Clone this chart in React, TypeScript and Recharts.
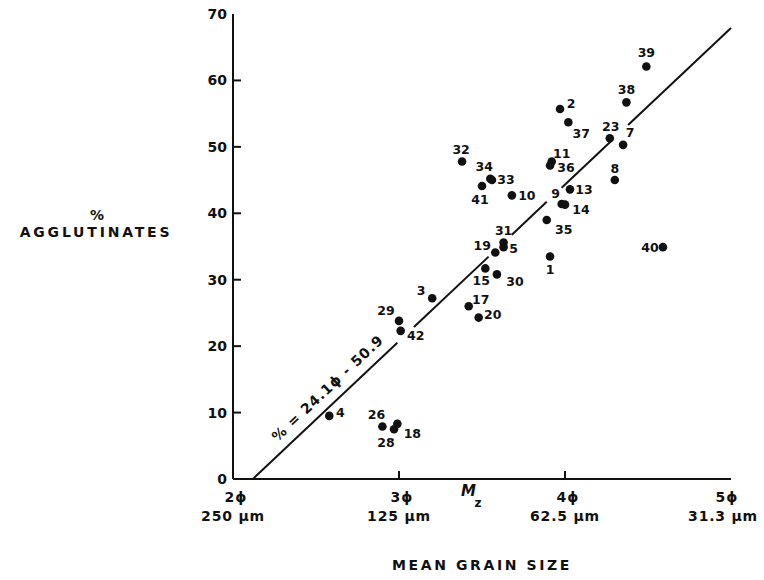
import React from 'react';
import {
  ScatterChart,
  Scatter,
  XAxis,
  YAxis,
  ReferenceLine,
  ReferenceDot,
} from 'recharts';

// sample numbers, mean grain size (phi) and % agglutinates
const sampleIds = [
  '1', '2', '3', '4', '5', '7', '8', '9', '10', '11', '13', '14', '15', '17', '18', '19', '20',
  '23', '26', '28', '29', '30', '31', '32', '33', '34', '35', '36', '37', '38', '39', '40', '41', '42',
];
const meanGrainSize = [
  3.91, 3.97, 3.2, 2.58, 3.63, 4.35, 4.3, 3.98, 3.68, 3.92, 4.03, 4.0, 3.52, 3.42, 2.99, 3.58, 3.48,
  4.27, 2.9, 2.97, 3.0, 3.59, 3.63, 3.38, 3.56, 3.55, 3.89, 3.91, 4.02, 4.37, 4.49, 4.59, 3.5, 3.01,
];
const agglutinates = [
  33.5, 55.7, 27.2, 9.5, 34.9, 50.3, 45.0, 41.4, 42.7, 47.8, 43.6, 41.3, 31.7, 26.0, 8.3, 34.1, 24.3,
  51.3, 7.9, 7.5, 23.8, 30.8, 35.6, 47.8, 45.0, 45.2, 39.0, 47.2, 53.7, 56.7, 62.1, 34.9, 44.1, 22.3,
];

const xTicks = [2, 3, 4, 5];
const xTickPhi = ['2ϕ', '3ϕ', '4ϕ', '5ϕ'];
const xTickMicron = ['250 µm', '125 µm', '62.5 µm', '31.3 µm'];
const yTicks = [0, 10, 20, 30, 40, 50, 60, 70];

// regression line as drawn (ends), with the gaps left around labels
const lineStart = { x: 2.12, y: 0 };
const lineEnd = { x: 5.0, y: 67.9 };
const lineRuns = [
  [2.12, 2.99],
  [3.09, 3.54],
  [3.68, 3.89],
  [3.98, 4.28],
  [4.38, 5.0],
];
const equationText = '% = 24.1ϕ - 50.9';

// where each number sits relative to its dot (px)
const labelOffset: Record<string, [number, number]> = {
  '1': [0, 13], '2': [11, -5], '3': [-11, -8], '4': [11, -3], '5': [10, 1], '7': [7, -12],
  '8': [0, -12], '9': [-6, -10], '10': [15, 0], '11': [10, -8], '13': [14, 0], '14': [16, 5],
  '15': [-4, 12], '17': [12, -7], '18': [15, 10], '19': [-13, -7], '20': [14, -3], '23': [1, -12],
  '26': [-6, -12], '28': [-8, 13], '29': [-13, -10], '30': [18, 7], '31': [0, -12], '32': [-1, -12],
  '33': [14, -1], '34': [-6, -12], '35': [17, 10], '36': [16, 2], '37': [13, 11], '38': [0, -13],
  '39': [0, -14], '40': [-13, 0], '41': [-2, 13], '42': [15, 5],
};

const FONT = '"DejaVu Sans", sans-serif';
const W = 764;
const H = 580;

const lineY = (x: number) =>
  lineStart.y + ((x - lineStart.x) * (lineEnd.y - lineStart.y)) / (lineEnd.x - lineStart.x);

const points = sampleIds.map((id, i) => ({ id, phi: meanGrainSize[i], pct: agglutinates[i] }));

const DotWithLabel = (props: any) => {
  const { cx, cy, payload } = props;
  const [dx, dy] = labelOffset[payload.id] || [12, 0];
  return (
    <g>
      <circle cx={cx} cy={cy} r={4.3} fill="#111" />
      <text
        x={cx + dx}
        y={cy + dy}
        textAnchor="middle"
        dominantBaseline="central"
        fontFamily={FONT}
        fontWeight="bold"
        fontSize={12.5}
        fill="#111"
      >
        {payload.id}
      </text>
    </g>
  );
};

const LeftTick = (props: any) => {
  const { x, y, payload } = props;
  return (
    <g>
      {payload.value > 0 && payload.value < 70 && (
        <line x1={x} x2={x + 8} y1={y} y2={y} stroke="#111" strokeWidth={2} />
      )}
      <text
        x={x - 6}
        y={y}
        textAnchor="end"
        dominantBaseline="central"
        fontFamily={FONT}
        fontWeight="bold"
        fontSize={14}
        fill="#111"
      >
        {payload.value}
      </text>
    </g>
  );
};

const RightTick = (props: any) => {
  const { x, y, payload } = props;
  if (payload.value <= 0 || payload.value >= 70) return <g />;
  return <line x1={x - 8} x2={x} y1={y} y2={y} stroke="#111" strokeWidth={2} />;
};

const BottomTick = (props: any) => {
  const { x, y, payload, index } = props;
  const last = index === xTicks.length - 1;
  return (
    <g>
      {payload.value > 2 && payload.value < 5 && (
        <line x1={x} x2={x} y1={y - 8} y2={y} stroke="#111" strokeWidth={2} />
      )}
      <text x={last ? x - 4 : x + 3} y={y + 23} textAnchor="middle" fontFamily={FONT} fontWeight="bold" fontSize={14} fill="#111" letterSpacing={1}>
        {xTickPhi[index]}
      </text>
      <text
        x={last ? x + 27 : x}
        y={y + 42}
        textAnchor={last ? 'end' : 'middle'}
        fontFamily={FONT}
        fontWeight="bold"
        fontSize={14}
        fill="#111"
        letterSpacing={0.8}
      >
        {xTickMicron[index]}
      </text>
    </g>
  );
};

const XTitle = (props: any) => {
  const { viewBox } = props;
  const { x, y, width } = viewBox;
  return (
    <g fontFamily={FONT} fontWeight="bold" fill="#111">
      <text x={x + width * 0.473} y={y + 17} textAnchor="middle" fontSize={15} fontStyle="italic">
        M
      </text>
      <text x={x + width * 0.492} y={y + 28} textAnchor="middle" fontSize={12}>
        z
      </text>
      <text x={x + width / 2} y={y + 91} textAnchor="middle" fontSize={14} letterSpacing={2.6}>
        MEAN GRAIN SIZE
      </text>
    </g>
  );
};

const YTitle = () => (
  <g fontFamily={FONT} fontWeight="bold" fill="#111">
    <text x={97} y={220} textAnchor="middle" fontSize={14}>
      %
    </text>
    <text x={96} y={237} textAnchor="middle" fontSize={14} letterSpacing={2.8}>
      AGGLUTINATES
    </text>
  </g>
);

const EquationLabel = (props: any) => {
  const { cx, cy } = props;
  return (
    <text
      x={cx}
      y={cy}
      transform={`rotate(-43.4 ${cx} ${cy})`}
      textAnchor="middle"
      dominantBaseline="central"
      fontFamily={FONT}
      fontWeight="bold"
      fontSize={14}
      letterSpacing={1}
      fill="#111"
    >
      {equationText}
    </text>
  );
};

export default function App() {
  return (
    <div style={{ position: 'absolute', left: 0, top: 0, background: '#fff' }}>
      <ScatterChart width={W} height={H} margin={{ top: 14, right: 33, bottom: 41, left: 173 }}>
        <XAxis
          type="number"
          dataKey="phi"
          domain={[2, 5]}
          ticks={xTicks}
          height={60}
          tickSize={0}
          tickMargin={0}
          tickLine={false}
          tick={<BottomTick />}
          axisLine={{ stroke: '#111', strokeWidth: 2 }}
          label={<XTitle />}
        />
        <XAxis
          xAxisId="top"
          orientation="top"
          type="number"
          domain={[2, 5]}
          height={0}
          tick={false}
          tickLine={false}
          axisLine={{ stroke: '#111', strokeWidth: 2 }}
        />
        <YAxis
          type="number"
          dataKey="pct"
          domain={[0, 70]}
          ticks={yTicks}
          width={60}
          tickSize={0}
          tickMargin={0}
          tickLine={false}
          tick={<LeftTick />}
          axisLine={{ stroke: '#111', strokeWidth: 2 }}
          label={<YTitle />}
        />
        <YAxis
          yAxisId="right"
          orientation="right"
          type="number"
          domain={[0, 70]}
          ticks={yTicks}
          width={0}
          tickSize={0}
          tickMargin={0}
          tickLine={false}
          tick={<RightTick />}
          axisLine={{ stroke: '#111', strokeWidth: 2 }}
        />
        {lineRuns.map(([a, b]) => (
          <ReferenceLine
            key={a}
            segment={[
              { x: a, y: lineY(a) },
              { x: b, y: lineY(b) },
            ]}
            stroke="#111"
            strokeWidth={2}
          />
        ))}
        <ReferenceDot x={2.57} y={13.7} r={0} shape={<EquationLabel />} />
        <Scatter data={points} shape={<DotWithLabel />} isAnimationActive={false} />
      </ScatterChart>
    </div>
  );
}
